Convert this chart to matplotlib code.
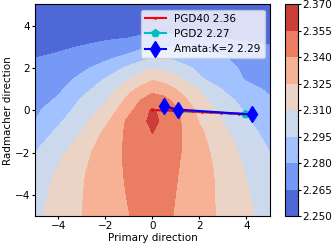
import numpy as np
import matplotlib
matplotlib.use("Agg")
from matplotlib import pyplot as plt

# grid of the loss surface
xs = [-5, -4, -3, -2, -1, -0.5, 0, 0.5, 1, 2, 3, 4, 5]
ys = [-5, -4, -3, -2, -1, -0.5, 0, 0.5, 1, 1.5, 2, 2.5, 3, 4, 5]
loss = [
    [2.3069, 2.3160, 2.3250, 2.3324, 2.3397, 2.3430, 2.3460, 2.3430, 2.3389, 2.3307, 2.3223, 2.3132, 2.3042],
    [2.3045, 2.3145, 2.3245, 2.3329, 2.3410, 2.3440, 2.3470, 2.3440, 2.3398, 2.3310, 2.3217, 2.3115, 2.3013],
    [2.3010, 2.3123, 2.3235, 2.3336, 2.3420, 2.3460, 2.3490, 2.3460, 2.3409, 2.3313, 2.3210, 2.3094, 2.2979],
    [2.2950, 2.3061, 2.3198, 2.3326, 2.3430, 2.3470, 2.3510, 2.3470, 2.3425, 2.3308, 2.3178, 2.3057, 2.2950],
    [2.2850, 2.2978, 2.3100, 2.3277, 2.3436, 2.3493, 2.3555, 2.3493, 2.3436, 2.3277, 2.3129, 2.3000, 2.2896],
    [2.2800, 2.2926, 2.3055, 2.3212, 2.3435, 2.3508, 2.3590, 2.3514, 2.3443, 2.3238, 2.3093, 2.2963, 2.2868],
    [2.2775, 2.2871, 2.3011, 2.3145, 2.3363, 2.3470, 2.3570, 2.3501, 2.3437, 2.3202, 2.3048, 2.2930, 2.2840],
    [2.2750, 2.2816, 2.2966, 2.3078, 2.3293, 2.3400, 2.3460, 2.3445, 2.3346, 2.3147, 2.2998, 2.2897, 2.2812],
    [2.2724, 2.2775, 2.2903, 2.3018, 2.3205, 2.3290, 2.3355, 2.3311, 2.3250, 2.3092, 2.2940, 2.2837, 2.2780],
    [2.2698, 2.2739, 2.2832, 2.2955, 2.3085, 2.3155, 2.3225, 2.3195, 2.3135, 2.2965, 2.2877, 2.2786, 2.2755],
    [2.2672, 2.2704, 2.2770, 2.2860, 2.2980, 2.3040, 2.3095, 2.3070, 2.3020, 2.2920, 2.2850, 2.2770, 2.2730],
    [2.2647, 2.2668, 2.2712, 2.2765, 2.2840, 2.2895, 2.2935, 2.2945, 2.2911, 2.2863, 2.2812, 2.2745, 2.2700],
    [2.2600, 2.2632, 2.2655, 2.2680, 2.2730, 2.2767, 2.2787, 2.2795, 2.2785, 2.2755, 2.2720, 2.2685, 2.2660],
    [2.2530, 2.2550, 2.2565, 2.2575, 2.2540, 2.2555, 2.2565, 2.2570, 2.2565, 2.2555, 2.2545, 2.2535, 2.2525],
    [2.2503, 2.2515, 2.2530, 2.2545, 2.2555, 2.2555, 2.2560, 2.2570, 2.2565, 2.2555, 2.2545, 2.2535, 2.2525],
]
levels = [2.250, 2.265, 2.280, 2.295, 2.310, 2.325, 2.340, 2.355, 2.370]

# trajectories
pgd40_x = [0.0, 0.42, 0.84, 1.26, 1.68, 2.10, 2.50, 2.90, 3.30, 3.70, 4.10]
pgd40_y = [0.0, 0.0, -0.01, -0.03, -0.05, -0.08, -0.10, -0.12, -0.15, -0.17, -0.20]
pgd2_x = [0.0, 3.95]
pgd2_y = [0.0, -0.18]
amata_x = [0.5, 1.1, 4.22]
amata_y = [0.18, 0.03, -0.20]

labels = ['PGD40 2.36', 'PGD2 2.27', 'Amata:K=2 2.29']

plt.rcParams['font.size'] = 7.5

fig = plt.figure(figsize=(3.32, 2.46), dpi=100)
ax = fig.add_axes([0.1054, 0.122, 0.7078, 0.8598])
cax = fig.add_axes([0.8584, 0.122, 0.0383, 0.8598])

X, Y = np.meshgrid(xs, ys)
cs = ax.contourf(X, Y, np.array(loss), levels=levels, cmap='coolwarm')

ax.plot(pgd2_x, pgd2_y, color='c', marker='p', markersize=6, markevery=[1], label=labels[1])
ax.plot(pgd40_x, pgd40_y, color='r', marker='.', markersize=2, label=labels[0])
ax.plot(amata_x, amata_y, color='b', marker='d', markersize=8, label=labels[2])

h, l = ax.get_legend_handles_labels()
ax.legend([h[1], h[0], h[2]], [l[1], l[0], l[2]], loc='upper right', fontsize=7.5)

ax.set_xlim(-5, 5)
ax.set_ylim(-5, 5)
ax.set_xticks([-4, -2, 0, 2, 4])
ax.set_yticks([-4, -2, 0, 2, 4])
ax.tick_params(length=2, pad=1.5)
ax.set_xlabel('Primary direction', labelpad=1.5)
ax.set_ylabel('Radmacher direction', labelpad=1.5)

cb = fig.colorbar(cs, cax=cax, ticks=levels, format='%.3f')
cb.ax.tick_params(length=2, pad=1)

fig.savefig('out.png', dpi=100)
